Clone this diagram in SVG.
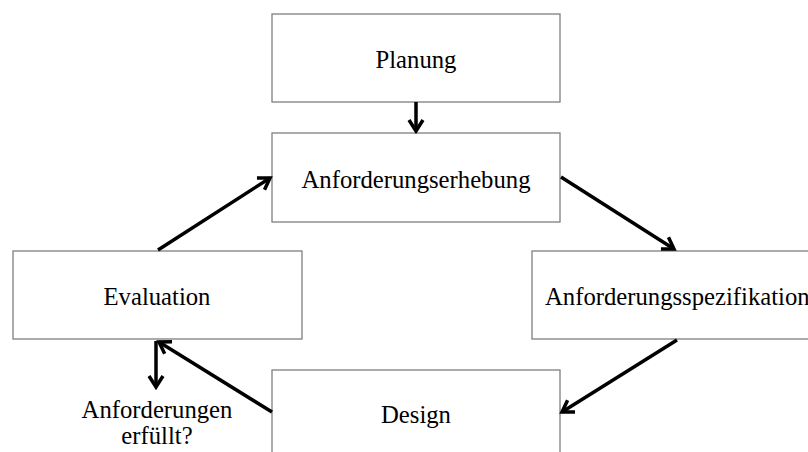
<svg xmlns="http://www.w3.org/2000/svg" width="808" height="452" viewBox="0 0 808 452">
<style>
.box{fill:#fff;stroke:#7f7f7f;stroke-width:1.3}
.lbl{font-family:"Liberation Serif","Times New Roman",serif;font-size:24.7px;fill:#000;text-anchor:middle}
.edge{stroke:#000;stroke-width:3.5;fill:none}
</style>
<defs>
<marker id="ah" markerUnits="userSpaceOnUse" markerWidth="16" markerHeight="18" viewBox="0 0 16 18" refX="13" refY="9" orient="auto">
<path d="M2,2 L13,9 L2,16" fill="none" stroke="#000" stroke-width="3.5" stroke-linejoin="miter"/>
</marker>
</defs>
<rect width="808" height="452" fill="#fff"/>
<g id="planung"><rect class="box" x="272" y="14" width="288" height="88"/><text class="lbl" x="416" y="68">Planung</text></g>
<g id="erhebung"><rect class="box" x="272" y="133" width="288" height="89"/><text class="lbl" x="416" y="188">Anforderungserhebung</text></g>
<g id="spezifikation"><rect class="box" x="532" y="251" width="290" height="88"/><text class="lbl" x="545" y="305" style="text-anchor:start">Anforderungsspezifikation</text></g>
<g id="design"><rect class="box" x="272" y="370" width="288" height="100"/><text class="lbl" x="416" y="423">Design</text></g>
<g id="evaluation"><rect class="box" x="13" y="251" width="289" height="88"/><text class="lbl" x="157" y="305">Evaluation</text></g>
<g id="frage"><text class="lbl" x="157" y="418">Anforderungen</text><text class="lbl" x="157" y="444">erfüllt?</text></g>
<g id="connectors">
<line class="edge" x1="561" y1="177" x2="674" y2="249" marker-end="url(#ah)"/>
<line class="edge" x1="416" y1="102" x2="416" y2="131" marker-end="url(#ah)"/>
<line class="edge" x1="677" y1="340" x2="562" y2="412" marker-end="url(#ah)"/>
<line class="edge" x1="272" y1="412" x2="159" y2="342" marker-end="url(#ah)"/>
<line class="edge" x1="156" y1="341" x2="156" y2="387" marker-end="url(#ah)"/>
<line class="edge" x1="158" y1="250" x2="270" y2="178" marker-end="url(#ah)"/>
</g>
</svg>
